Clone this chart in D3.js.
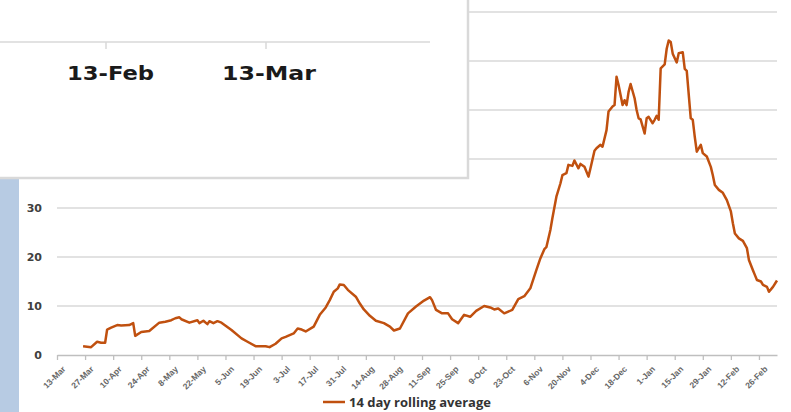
<!DOCTYPE html>
<html lang="en">
<head>
<meta charset="utf-8">
<title>14 day rolling average</title>
<script src="https://cdn.jsdelivr.net/npm/d3@7"></script>
<style>
  body { margin: 0; background: #fff; }
  svg { display: block; }
</style>
</head>
<body>
<div id="chart"></div>
<script>

// first category on the date axis
var startDate = new Date(2020, 2, 13);
var axisDays = 359;

// readings: days after 13-Mar-2020 and the 14 day rolling average
var dayOffsets = [13, 15, 17, 20, 22, 24, 25, 27, 30, 32, 36, 38, 39, 42, 46, 51, 54, 57, 59, 61,
  62, 66, 70, 71, 73, 75, 76, 78, 80, 82, 87, 92, 95, 99, 104, 106, 109, 112, 114, 118,
  120, 122, 124, 128, 131, 134, 136, 138, 140, 141, 143, 145, 149, 151, 153, 156, 159, 163, 166, 168,
  171, 175, 179, 183, 186, 187, 189, 192, 195, 197, 200, 203, 206, 209, 213, 216, 218, 220, 223, 227,
  230, 233, 236, 239, 241, 243, 244, 246, 247, 249, 251, 252, 254, 255, 257, 258, 260, 261, 263, 265,
  266, 268, 269, 271, 272, 274, 275, 277, 278, 279, 280, 282, 283, 284, 285, 286, 288, 289, 290, 291,
  293, 294, 295, 297, 298, 299, 300, 301, 303, 304, 305, 306, 307, 309, 310, 312, 313, 314, 316, 317,
  318, 319, 321, 322, 324, 326, 327, 328, 330, 332, 334, 336, 337, 338, 340, 342, 344, 345, 347, 348,
  349, 351, 352, 354, 355, 357, 359];
var rollingAvg = [1.8, 1.7, 1.6, 2.7, 2.5, 2.5, 5.2, 5.6, 6.1, 6.0, 6.1, 6.5, 3.9, 4.7, 4.9, 6.6, 6.8, 7.1, 7.5, 7.7,
  7.3, 6.6, 7.1, 6.5, 7.0, 6.3, 6.9, 6.5, 6.9, 6.6, 5.1, 3.4, 2.7, 1.8, 1.8, 1.6, 2.3, 3.4, 3.7, 4.4,
  5.4, 5.2, 4.8, 5.8, 8.2, 9.7, 11.2, 12.9, 13.6, 14.4, 14.3, 13.3, 11.9, 10.5, 9.3, 8.0, 7.0, 6.5, 5.8, 5.0,
  5.4, 8.5, 9.9, 11.1, 11.8, 11.2, 9.2, 8.5, 8.5, 7.3, 6.5, 8.2, 7.8, 9.0, 10.0, 9.7, 9.3, 9.5, 8.5, 9.2,
  11.4, 12.0, 13.6, 17.3, 19.7, 21.6, 22.0, 25.5, 27.9, 32.3, 35.0, 36.7, 37.1, 38.8, 38.6, 39.7, 38.1, 39.0, 38.4, 36.4,
  38.1, 41.7, 42.2, 42.9, 42.5, 45.9, 49.7, 50.7, 51.0, 56.8, 55.1, 51.0, 52.0, 51.0, 53.7, 55.3, 52.4, 50.0, 48.3, 48.1,
  45.2, 48.3, 48.6, 47.3, 48.0, 48.8, 48.0, 58.5, 59.3, 62.5, 64.2, 63.9, 61.5, 59.7, 61.6, 61.8, 58.4, 58.0, 48.3, 48.0,
  44.5, 41.5, 42.9, 41.2, 40.5, 38.4, 36.7, 34.7, 33.7, 33.1, 31.6, 29.3, 26.9, 24.8, 23.8, 23.3, 21.8, 19.4, 17.3, 16.3,
  15.3, 15.0, 14.3, 13.9, 12.9, 13.9, 15.2];

var yTicks = [0, 10, 20, 30, 40, 50, 60, 70];
var seriesName = "14 day rolling average";

// the inset pasted over the top left corner
var insetLabels = ["13-Feb", "13-Mar"];

var width = 791,
    height = 412;

var svg = d3.select("#chart")
  .append("svg")
  .attr("width", width)
  .attr("height", height);

var x = d3.scaleTime()
  .domain([startDate, d3.timeDay.offset(startDate, axisDays)])
  .range([57, 777]);

var y = d3.scaleLinear()
  .domain([0, 70])
  .range([355, 12]);

var data = dayOffsets.map(function(d, i) {
  return { date: d3.timeDay.offset(startDate, d), value: rollingAvg[i] };
});

// left blue strip
svg.append("rect")
  .attr("x", 0).attr("y", 179)
  .attr("width", 19).attr("height", height - 179)
  .attr("fill", "#b7cbe3");

// gridlines
svg.append("g")
  .selectAll("line")
  .data(yTicks.slice(1))
  .enter()
  .append("line")
    .attr("x1", x.range()[0])
    .attr("x2", x.range()[1])
    .attr("y1", function(d) { return y(d); })
    .attr("y2", function(d) { return y(d); })
    .attr("stroke", "#d9d9d9")
    .attr("stroke-width", 1.3);

// y labels
svg.append("g")
  .selectAll("text")
  .data(yTicks)
  .enter()
  .append("text")
    .attr("x", 42)
    .attr("y", function(d) { return y(d); })
    .attr("dy", "0.36em")
    .attr("text-anchor", "end")
    .attr("font-family", "DejaVu Sans, Verdana, sans-serif")
    .attr("font-weight", "bold")
    .attr("font-size", 11)
    .attr("fill", "#404040")
    .text(function(d) { return d; });

// x axis
var tickDates = d3.range(0, 351, 14).map(function(d) { return d3.timeDay.offset(startDate, d); });
var xAxis = svg.append("g")
  .attr("transform", "translate(0," + y(0) + ")")
  .call(d3.axisBottom(x)
    .tickValues(tickDates)
    .tickFormat(d3.timeFormat("%-d-%b"))
    .tickSize(5)
    .tickSizeOuter(0));

xAxis.select(".domain").attr("stroke", "#bfbfbf").attr("stroke-width", 1.3);
xAxis.selectAll(".tick line").attr("stroke", "#bfbfbf").attr("stroke-width", 1.3);
xAxis.selectAll(".tick text")
  .attr("font-family", "Liberation Sans, Arial, sans-serif")
  .attr("font-size", 8.5)
  .attr("font-weight", "bold")
  .attr("fill", "#666")
  .attr("text-anchor", "end")
  .attr("dx", 0)
  .attr("dy", 0)
  .attr("transform", "translate(3,9) rotate(-45)");

// the line
svg.append("path")
  .datum(data)
  .attr("fill", "none")
  .attr("stroke", "#c0500f")
  .attr("stroke-width", 2.5)
  .attr("stroke-linejoin", "round")
  .attr("d", d3.line()
    .x(function(d) { return x(d.date); })
    .y(function(d) { return y(d.value); }));

// legend
svg.append("line")
  .attr("x1", 323).attr("x2", 345)
  .attr("y1", 402).attr("y2", 402)
  .attr("stroke", "#c0500f")
  .attr("stroke-width", 2.5);
svg.append("text")
  .attr("x", 349).attr("y", 402)
  .attr("dy", "0.35em")
  .attr("font-family", "Open Sans, sans-serif")
  .attr("font-weight", "bold")
  .attr("font-size", 13)
  .attr("fill", "#333")
  .text(seriesName);

// inset box over top left
var inset = svg.append("g");
inset.append("rect")
  .attr("x", -3).attr("y", -3)
  .attr("width", 471).attr("height", 181)
  .attr("fill", "#fff")
  .attr("stroke", "#d9d9d9")
  .attr("stroke-width", 2.5);
inset.append("line")
  .attr("x1", 0).attr("x2", 430)
  .attr("y1", 42).attr("y2", 42)
  .attr("stroke", "#d9d9d9")
  .attr("stroke-width", 1.5);

var insetX = d3.scalePoint()
  .domain(insetLabels)
  .range([106, 266]);

inset.selectAll(".itick")
  .data(insetLabels)
  .enter()
  .append("line")
    .attr("x1", function(d) { return insetX(d); })
    .attr("x2", function(d) { return insetX(d); })
    .attr("y1", 42).attr("y2", 49)
    .attr("stroke", "#d9d9d9")
    .attr("stroke-width", 1.5);

inset.selectAll(".ilabel")
  .data(insetLabels)
  .enter()
  .append("text")
    .attr("x", function(d, i) { return insetX(d) + (i == 0 ? 4.5 : 3); })
    .attr("y", 80)
    .attr("text-anchor", "middle")
    .attr("font-family", "DejaVu Sans, Verdana, sans-serif")
    .attr("font-weight", "bold")
    .attr("font-size", 20)
    .attr("textLength", function(d, i) { return i == 0 ? 87 : 94; })
    .attr("lengthAdjust", "spacingAndGlyphs")
    .attr("fill", "#1a1a1a")
    .text(function(d) { return d; });

</script>
</body>
</html>
